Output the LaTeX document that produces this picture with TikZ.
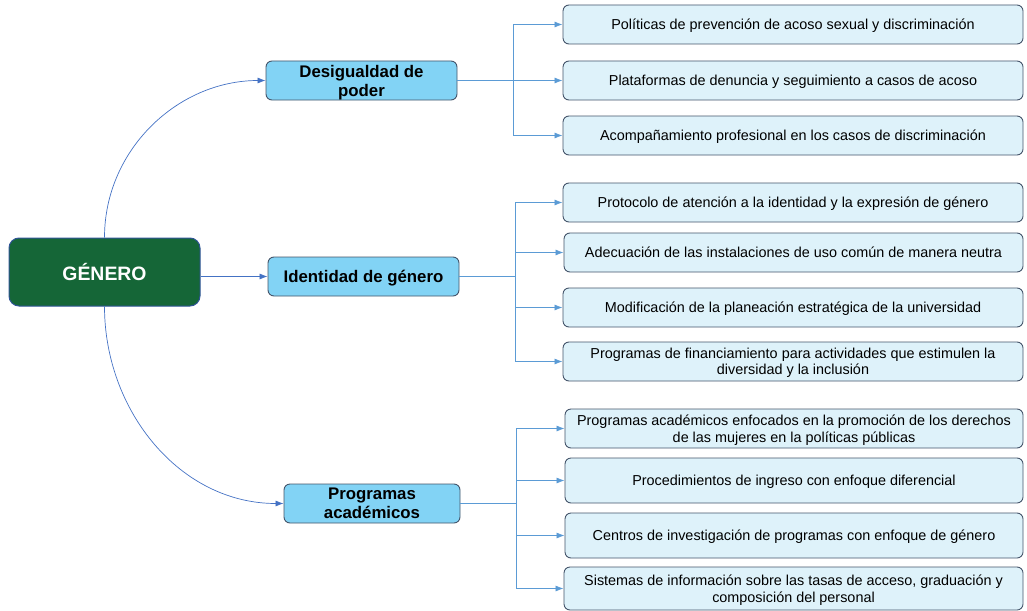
\documentclass[tikz,border=0pt]{standalone}
\usepackage{fontspec}
\setmainfont{Liberation Sans}
\usepackage{tikz}
\usetikzlibrary{shapes,arrows.meta}
\definecolor{rootgreen}{RGB}{21,102,55}
\definecolor{rootborder}{RGB}{47,84,150}
\definecolor{topicblue}{RGB}{130,211,245}
\definecolor{leafblue}{RGB}{222,242,250}
\definecolor{boxborder}{RGB}{68,84,106}
\definecolor{leafline}{RGB}{91,155,213}
\definecolor{rootline}{RGB}{68,114,196}
\tikzstyle{line} = [draw=leafline, line width=0.8pt, -{Latex[length=8pt,width=6pt]}]
\tikzstyle{curve} = [draw=rootline, line width=0.7pt, -{Latex[length=8pt,width=6pt]}]
\tikzstyle{root} = [rectangle, rounded corners=10pt, draw=rootborder, line width=1pt, fill=rootgreen, text=white, minimum width=191pt, minimum height=68pt, font=\fontsize{19.4}{21}\selectfont\bfseries]
\tikzstyle{topic} = [rectangle, rounded corners=6pt, draw=boxborder, line width=0.9pt, fill=topicblue, minimum width=191pt, minimum height=39pt, inner sep=1pt, text depth=0pt, align=center, font=\fontsize{16.8}{19}\selectfont\bfseries]
\tikzstyle{leaf} = [rectangle, rounded corners=6pt, draw=boxborder, line width=0.9pt, fill=leafblue, minimum width=460pt, minimum height=39pt, inner sep=1pt, text depth=0pt, align=center, font=\fontsize{14.4}{16.5}\selectfont]

\begin{document}
\begin{tikzpicture}[x=1pt, y=-1pt]
	\useasboundingbox (0,0) rectangle (1027,610);
	
	\node [root] (gen) at (104.5,272) {GÉNERO};
	\node [topic] (poder) at (361.5,80.5) {Desigualdad de\\poder};
	\node [topic] (ident) at (363.5,276.5) {Identidad de género};
	\node [topic, minimum width=176pt] (prog) at (372,503.5) {Programas\\académicos};
	
	\node [leaf] (pol) at (793,24.5) {Políticas de prevención de acoso sexual y discriminación};
	\node [leaf] (plat) at (793,80.5) {Plataformas de denuncia y seguimiento a casos de acoso};
	\node [leaf] (acomp) at (793,135.5) {Acompañamiento profesional en los casos de discriminación};
	
	\node [leaf] (proto) at (793,202.5) {Protocolo de atención a la identidad y la expresión de género};
	\node [leaf, minimum width=459pt] (adec) at (793.5,252.5) {Adecuación de las instalaciones de uso común de manera neutra};
	\node [leaf] (modif) at (793,307.5) {Modificación de la planeación estratégica de la universidad};
	\node [leaf] (finan) at (793,361.5) {Programas de financiamiento para actividades que estimulen la\\diversidad y la inclusión};
	
	\node [leaf, minimum width=458pt] (enfoc) at (794,428.5) {Programas académicos enfocados en la promoción de los derechos\\de las mujeres en la políticas públicas};
	\node [leaf, minimum width=458pt, minimum height=45pt] (ingreso) at (794,480.5) {Procedimientos de ingreso con enfoque diferencial};
	\node [leaf, minimum width=458pt, minimum height=45pt] (centros) at (794,535.5) {Centros de investigación de programas con enfoque de género};
	\node [leaf, minimum width=459pt, minimum height=43pt] (sist) at (793.5,588.5) {Sistemas de información sobre las tasas de acceso, graduación y\\composición del personal};
	
	\coordinate (b1) at (513,80.5);
	\coordinate (b2) at (515,276.5);
	\coordinate (b3) at (516,503.5);
	
	% root to topics
	\path [curve] (gen.north) to[out=90, in=180] (poder.west);
	\path [curve] (gen.east |- ident) -- (ident.west);
	\path [curve] (gen.south) to[out=-90, in=180] (prog.west);
	
	% topics to leaves
	\foreach \leafname in {pol, plat, acomp}
		\path [line] (poder.east) -- (b1) |- (\leafname.west);
	\foreach \leafname in {proto, adec, modif, finan}
		\path [line] (ident.east) -- (b2) |- (\leafname.west);
	\foreach \leafname in {enfoc, ingreso, centros, sist}
		\path [line] (prog.east) -- (b3) |- (\leafname.west);
\end{tikzpicture}
\end{document}
